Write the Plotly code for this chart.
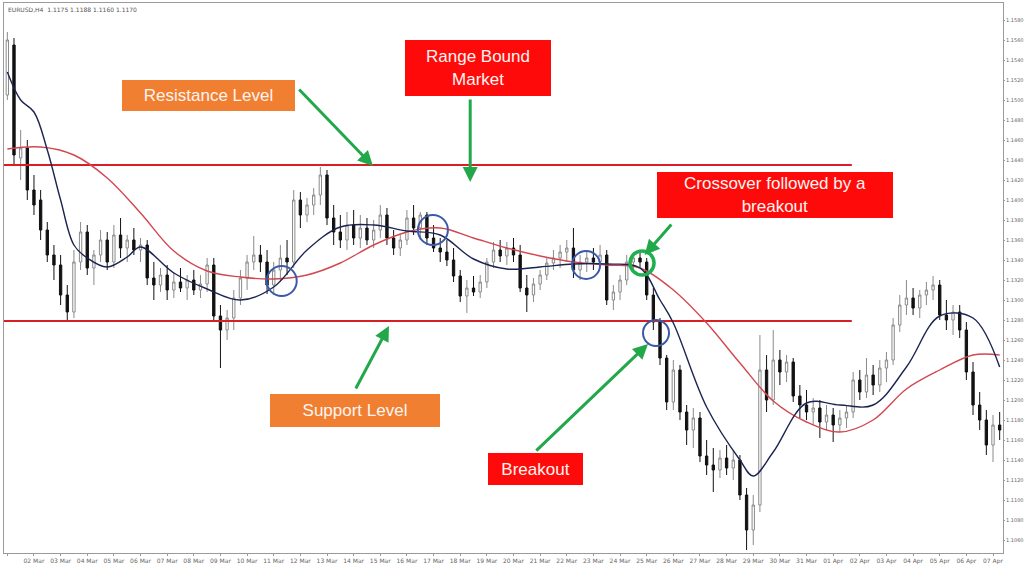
import plotly.graph_objects as go
import pandas as pd

# ---------------- data ----------------
open_ = [1.1505,1.1555,1.1442,1.1452,1.1410,1.1400,1.1370,1.1345,1.1335,1.1305,
         1.1288,1.1338,1.1368,1.1332,1.1345,1.1360,1.1338,1.1365,1.1352,1.1360,
         1.1350,1.1355,1.1322,1.1315,1.1325,1.1310,1.1318,1.1312,1.1320,1.1310,
         1.1316,1.1335,1.1284,1.1270,1.1282,1.1302,1.1322,1.1338,1.1345,1.1338,
         1.1315,1.1330,1.1342,1.1338,1.1400,1.1385,1.1395,1.1405,1.1425,1.1382,
         1.1368,1.1360,1.1375,1.1362,1.1372,1.1360,1.1370,1.1385,1.1362,1.1352,
         1.1360,1.1382,1.1372,1.1385,1.1362,1.1352,1.1348,1.1340,1.1324,1.1304,
         1.1312,1.1308,1.1318,1.1338,1.1350,1.1344,1.1352,1.1345,1.1312,1.1305,
         1.1316,1.1325,1.1337,1.1342,1.1348,1.1352,1.1330,1.1338,1.1342,1.1338,
         1.1345,1.1300,1.1308,1.1320,1.1338,1.1342,1.1338,1.1305,1.1278,1.1242,
         1.1198,1.1230,1.1188,1.1170,1.1182,1.1144,1.1135,1.1130,1.1142,1.1132,
         1.1140,1.1105,1.1070,1.1095,1.1230,1.1200,1.1240,1.1228,1.1238,1.1204,
         1.1195,1.1188,1.1192,1.1178,1.1185,1.1175,1.1182,1.1188,1.1220,1.1208,
         1.1225,1.1215,1.1232,1.1240,1.1275,1.1295,1.1302,1.1292,1.1305,1.1310,
         1.1315,1.1285,1.1280,1.1288,1.1270,1.1228,1.1195,1.1180,1.1155,1.1175]
high = [1.1568,1.1562,1.1470,1.1460,1.1425,1.1410,1.1378,1.1355,1.1345,1.1315,
        1.1350,1.1378,1.1375,1.1350,1.1370,1.1368,1.1375,1.1382,1.1365,1.1372,
        1.1362,1.1360,1.1338,1.1332,1.1335,1.1328,1.1332,1.1325,1.1330,1.1325,
        1.1342,1.1342,1.1295,1.1290,1.1310,1.1330,1.1345,1.1364,1.1355,1.1350,
        1.1338,1.1355,1.1360,1.1410,1.1408,1.1402,1.1412,1.1433,1.1430,1.1395,
        1.1385,1.1388,1.1390,1.1385,1.1382,1.1380,1.1395,1.1392,1.1370,1.1365,
        1.1390,1.1395,1.1388,1.1388,1.1375,1.1362,1.1360,1.1352,1.1330,1.1320,
        1.1324,1.1325,1.1342,1.1358,1.1360,1.1358,1.1362,1.1355,1.1325,1.1322,
        1.1330,1.1342,1.1350,1.1355,1.1360,1.1372,1.1345,1.1350,1.1352,1.1355,
        1.1350,1.1315,1.1325,1.1345,1.1348,1.1350,1.1342,1.1312,1.1282,1.1245,
        1.1240,1.1235,1.1195,1.1192,1.1188,1.1160,1.1152,1.1150,1.1155,1.1150,
        1.1145,1.1112,1.1105,1.1265,1.1245,1.1270,1.1250,1.1245,1.1242,1.1215,
        1.1210,1.1202,1.1200,1.1195,1.1192,1.1190,1.1195,1.1228,1.1230,1.1242,
        1.1235,1.1240,1.1248,1.1282,1.1305,1.1320,1.1312,1.1310,1.1318,1.1324,
        1.1320,1.1300,1.1295,1.1295,1.1278,1.1238,1.1208,1.1190,1.1185,1.1188]
low = [1.1500,1.1435,1.1420,1.1400,1.1385,1.1360,1.1338,1.1320,1.1295,1.1280,
       1.1282,1.1330,1.1325,1.1315,1.1338,1.1330,1.1332,1.1342,1.1338,1.1345,
       1.1338,1.1315,1.1300,1.1308,1.1300,1.1302,1.1308,1.1300,1.1305,1.1302,
       1.1308,1.1278,1.1232,1.1260,1.1270,1.1295,1.1310,1.1330,1.1328,1.1306,
       1.1305,1.1318,1.1325,1.1332,1.1372,1.1378,1.1385,1.1395,1.1375,1.1355,
       1.1352,1.1350,1.1355,1.1352,1.1355,1.1352,1.1362,1.1355,1.1345,1.1344,
       1.1355,1.1365,1.1360,1.1355,1.1348,1.1338,1.1334,1.1318,1.1298,1.1287,
       1.1304,1.1302,1.1312,1.1332,1.1338,1.1335,1.1338,1.1308,1.1288,1.1298,
       1.1310,1.1320,1.1330,1.1332,1.1338,1.1322,1.1320,1.1328,1.1330,1.1332,
       1.1295,1.1290,1.1300,1.1315,1.1330,1.1332,1.1300,1.1270,1.1235,1.1190,
       1.1190,1.1180,1.1155,1.1152,1.1138,1.1125,1.1108,1.1122,1.1125,1.1120,
       1.1100,1.1050,1.1055,1.1088,1.1188,1.1195,1.1215,1.1218,1.1198,1.1182,
       1.1180,1.1175,1.1162,1.1170,1.1158,1.1168,1.1172,1.1182,1.1200,1.1202,
       1.1205,1.1208,1.1218,1.1235,1.1268,1.1285,1.1285,1.1282,1.1295,1.1300,
       1.1280,1.1270,1.1265,1.1262,1.1220,1.1185,1.1170,1.1145,1.1138,1.1160]
close = [1.1560,1.1445,1.1452,1.1410,1.1395,1.1370,1.1345,1.1335,1.1305,1.1288,
         1.1338,1.1368,1.1332,1.1345,1.1360,1.1338,1.1365,1.1352,1.1360,1.1350,
         1.1355,1.1322,1.1315,1.1325,1.1310,1.1318,1.1312,1.1320,1.1310,1.1316,
         1.1335,1.1284,1.1270,1.1282,1.1302,1.1322,1.1338,1.1345,1.1338,1.1315,
         1.1330,1.1342,1.1338,1.1400,1.1385,1.1395,1.1405,1.1425,1.1382,1.1368,
         1.1360,1.1375,1.1362,1.1372,1.1360,1.1370,1.1385,1.1362,1.1352,1.1360,
         1.1382,1.1372,1.1385,1.1362,1.1352,1.1348,1.1340,1.1324,1.1304,1.1312,
         1.1308,1.1318,1.1338,1.1350,1.1344,1.1352,1.1345,1.1312,1.1305,1.1316,
         1.1325,1.1337,1.1342,1.1348,1.1352,1.1330,1.1338,1.1342,1.1338,1.1345,
         1.1300,1.1308,1.1320,1.1338,1.1342,1.1338,1.1305,1.1278,1.1242,1.1198,
         1.1230,1.1188,1.1170,1.1182,1.1144,1.1135,1.1130,1.1142,1.1132,1.1140,
         1.1105,1.1070,1.1095,1.1230,1.1200,1.1240,1.1228,1.1238,1.1204,1.1195,
         1.1188,1.1192,1.1178,1.1185,1.1175,1.1182,1.1188,1.1220,1.1208,1.1225,
         1.1215,1.1232,1.1240,1.1275,1.1295,1.1302,1.1292,1.1305,1.1310,1.1315,
         1.1285,1.1280,1.1288,1.1270,1.1228,1.1195,1.1180,1.1155,1.1175,1.1170]

fast_ma_idx = [0,2,4,6,8,10,12,15,18,20,25,30,35,40,45,50,55,60,65,70,75,80,85,90,95,
               98,100,105,110,112,115,120,125,130,135,140,145,149]
fast_ma = [1.1528,1.1500,1.1488,1.1450,1.1400,1.1355,1.1342,1.1333,1.1343,1.1353,
           1.1327,1.1311,1.1300,1.1313,1.1350,1.1373,1.1375,1.1369,1.1365,1.1341,
           1.1331,1.1333,1.1336,1.1336,1.1332,1.1300,1.1277,1.1193,1.1140,1.1124,
           1.1148,1.1197,1.1195,1.1195,1.1233,1.1284,1.1282,1.1233]
slow_ma_idx = [0,5,10,15,20,25,30,35,40,45,50,55,60,65,70,75,80,85,90,95,100,105,
               110,115,120,125,130,135,140,145,149]
slow_ma = [1.1451,1.1453,1.1445,1.1422,1.1387,1.1349,1.1329,1.1323,1.1321,1.1325,
           1.1337,1.1355,1.1368,1.1372,1.1362,1.1352,1.1344,1.1338,1.1335,1.1332,
           1.1310,1.1277,1.1237,1.1199,1.1178,1.1168,1.1180,1.1211,1.1230,1.1245,1.1245]

resistance = 1.1435
support = 1.1279
level_end_idx = 126.8

tick_dates = pd.date_range("2023-03-01", periods=38, freq="D")
tick_labels = [d.strftime("%d %b") for d in tick_dates]
tick_idx = list(range(0, 150, 4))

header_text = "EURUSD,H4  1.1175 1.1188 1.1160 1.1170"

# text boxes: (text, x idx, y price, width px, height px, fill)
boxes = [
    ("Resistance Level", 30.2, 1.15045, 173, 31, "#F07F31"),
    ("Range Bound<br>Market", 70.7, 1.1532, 146, 56, "#FF0A0A"),
    ("Crossover followed by a<br>breakout", 115.3, 1.1405, 236, 46, "#FF0A0A"),
    ("Support Level", 52.2, 1.11895, 170, 33, "#F07F31"),
    ("Breakout", 79.3, 1.1131, 95, 32, "#FF0A0A"),
]
# arrows: (tail idx, tail price, head idx, head price)
arrows = [
    (43.6, 1.1512, 54.9, 1.1434),
    (69.5, 1.1502, 69.5, 1.1418),
    (99.9, 1.1377, 95.7, 1.1345),
    (52.2, 1.1210, 57.3, 1.1274),
    (79.2, 1.1148, 96.2, 1.1256),
]
# circles: (idx, price, radius px, colour, width)
circles = [
    (41.2, 1.1319, 15, "#3A5AA8", 2),
    (63.9, 1.1370, 15, "#3A5AA8", 2),
    (86.9, 1.1335, 14, "#3A5AA8", 2),
    (95.3, 1.1337, 12, "#1FB050", 3.5),
    (97.4, 1.1267, 13, "#3A5AA8", 2),
]

# ---------------- figure ----------------
W, H = 1024, 576
ml, mr, mt, mb = 4, 21, 3, 23
x_range = [-0.5, 149.5]
y_range = [1.1047, 1.1597]
px_per_x = (W - ml - mr) / (x_range[1] - x_range[0])
px_per_y = (H - mt - mb) / (y_range[1] - y_range[0])

idx = list(range(len(close)))
fig = go.Figure()
fig.add_trace(go.Candlestick(
    x=idx, open=open_, high=high, low=low, close=close,
    increasing=dict(line=dict(color="#8a8a8a", width=1), fillcolor="#ffffff"),
    decreasing=dict(line=dict(color="#111111", width=1), fillcolor="#111111"),
    whiskerwidth=0, showlegend=False, hoverinfo="skip"))

for lvl in (resistance, support):
    fig.add_trace(go.Scatter(x=[x_range[0], level_end_idx], y=[lvl, lvl], mode="lines",
                             line=dict(color="#D81F26", width=2.2), showlegend=False,
                             hoverinfo="skip"))

fig.add_trace(go.Scatter(x=slow_ma_idx, y=slow_ma, mode="lines",
                         line=dict(color="#D2474F", width=1.4, shape="spline", smoothing=1.0),
                         showlegend=False, hoverinfo="skip"))
fig.add_trace(go.Scatter(x=fast_ma_idx, y=fast_ma, mode="lines",
                         line=dict(color="#1C2452", width=1.4, shape="spline", smoothing=1.0),
                         showlegend=False, hoverinfo="skip"))

for cx, cy, r, col, lw in circles:
    dx = r / px_per_x
    dy = r / px_per_y
    fig.add_shape(type="circle", xref="x", yref="y", x0=cx - dx, x1=cx + dx,
                  y0=cy - dy, y1=cy + dy, line=dict(color=col, width=lw))

annotations = []
for tx, ty, hx, hy in arrows:
    annotations.append(dict(x=hx, y=hy, ax=tx, ay=ty, xref="x", yref="y",
                            axref="x", ayref="y", text="", showarrow=True,
                            arrowhead=2, arrowsize=1, arrowwidth=3,
                            arrowcolor="#22A84A"))
for text, bx, by, bw, bh, fill in boxes:
    annotations.append(dict(x=bx, y=by, xref="x", yref="y", text=text, showarrow=False,
                            width=bw - 2, height=bh - 2, bgcolor=fill, bordercolor=fill,
                            borderwidth=1, borderpad=0, align="center", valign="middle",
                            font=dict(family="Liberation Sans, Arial", size=17,
                                      color="#FFF4F0")))
annotations.append(dict(x=0.002, y=0.999, xref="paper", yref="paper", xanchor="left",
                        yanchor="top", text=header_text, showarrow=False,
                        font=dict(family="DejaVu Sans", size=6, color="#555555")))

fig.update_layout(
    width=W, height=H, margin=dict(l=ml, r=mr, t=mt, b=mb, autoexpand=False),
    paper_bgcolor="white", plot_bgcolor="white", boxgap=0.5,
    annotations=annotations,
    xaxis=dict(range=x_range, rangeslider=dict(visible=False), showgrid=False,
               zeroline=False, tickmode="array", tickvals=tick_idx, ticktext=tick_labels,
               tickfont=dict(family="DejaVu Sans", size=6, color="#666666"),
               ticks="outside", ticklen=2, tickcolor="#999999", automargin=False,
               showline=True, linecolor="#9a9a9a", linewidth=1, mirror=True),
    yaxis=dict(range=y_range, side="right", showgrid=False, zeroline=False,
               dtick=0.002, tick0=1.1000, tickformat=".4f", automargin=False,
               tickfont=dict(family="DejaVu Sans", size=5, color="#666666"),
               ticks="outside", ticklen=1, tickcolor="#999999",
               showline=True, linecolor="#9a9a9a", linewidth=1, mirror=True),
)

fig.write_html("out.html", config={"displayModeBar": False},
               post_script="document.body.style.margin='0px';document.body.style.padding='0px';")
